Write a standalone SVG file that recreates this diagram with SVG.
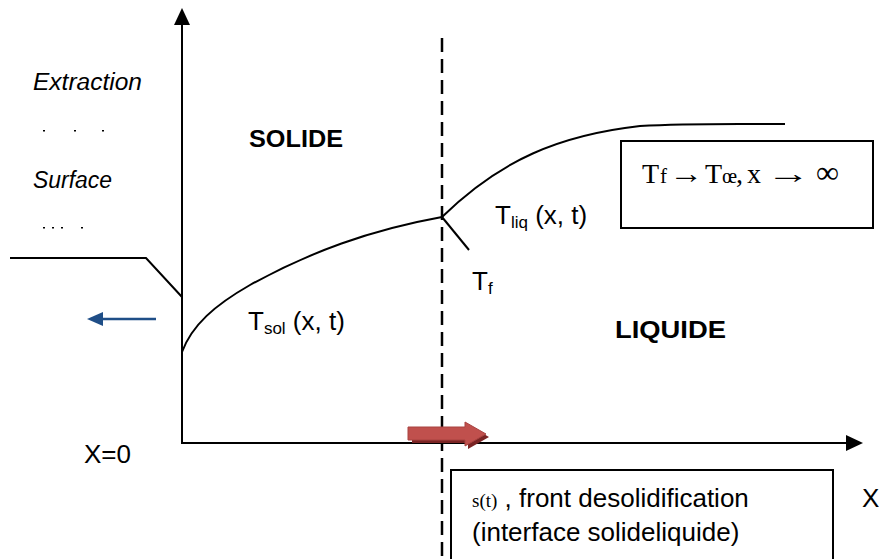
<svg xmlns="http://www.w3.org/2000/svg" width="879" height="559" viewBox="0 0 879 559">
<style>
.ln{fill:none;stroke:#000;stroke-width:2}
.t{font-family:"Liberation Sans",Calibri,Arial,sans-serif;fill:#000}
.it{font-style:italic;font-size:23px}
.b{font-weight:bold;font-size:24px}
.n{font-size:26px}
.sub{font-size:17px}
.serif{font-family:"Liberation Serif","Times New Roman",serif;fill:#000}
.box{fill:#fff;stroke:#000;stroke-width:2}
</style>
<rect width="879" height="559" fill="#fff"/>
<g id="connectors">
<line class="ln" x1="182" y1="24" x2="182" y2="444"/>
<path d="M182,8 L174,25 L190,25 Z" fill="#000"/>
<line class="ln" x1="181" y1="443" x2="848" y2="443"/>
<path d="M863,443 L846,435 L846,451 Z" fill="#000"/>
<line x1="442" y1="38" x2="442" y2="559" stroke="#000" stroke-width="2.5" stroke-dasharray="14,7"/>
<path class="ln" d="M182,352 C192,325 215,305 250,285 C310,252 370,230 442,217"/>
<path class="ln" d="M442,217 C500,160 560,135 640,126 C690,123 740,124 785,124"/>
<line class="ln" x1="442" y1="217" x2="469" y2="250"/>
<path class="ln" d="M10,258 L146,258 L182,297"/>
<line x1="156" y1="319" x2="100" y2="319" stroke="#1f4e87" stroke-width="2.5"/>
<path d="M87,319 L103,312 L103,326 Z" fill="#1f4e87"/>
</g>
<g id="red-arrow">
<path d="M412,431 L468,431 L468,425 L489,437 L468,449 L468,443 L412,443 Z" fill="#7a2424"/>
<path d="M408,427 L465,427 L465,422 L486,434 L465,446 L465,440 L408,440 Z" fill="#c0504d" stroke="#a84240" stroke-width="1"/>
</g>
<g id="labels-left">
<text class="t it" x="33" y="90" textLength="109" lengthAdjust="spacingAndGlyphs">Extraction</text>
<text class="t it" x="33" y="188" textLength="79" lengthAdjust="spacingAndGlyphs">Surface</text>
<rect x="43" y="130" width="2" height="1.5" fill="#000"/>
<rect x="74" y="130" width="2" height="1.5" fill="#000"/>
<rect x="102" y="130" width="2" height="1.5" fill="#000"/>
<rect x="43" y="227" width="2" height="1.5" fill="#000"/>
<rect x="52" y="227" width="2" height="1.5" fill="#000"/>
<rect x="61" y="227" width="2" height="1.5" fill="#000"/>
<rect x="81" y="227" width="2" height="1.5" fill="#000"/>
<text class="t n" x="84" y="463">X=0</text>
</g>
<g id="solide"><text class="t b" x="249" y="147" textLength="94" lengthAdjust="spacingAndGlyphs">SOLIDE</text></g>
<g id="liquide"><text class="t b" x="615" y="338" textLength="111" lengthAdjust="spacingAndGlyphs">LIQUIDE</text></g>
<g id="tsol"><text class="t n" x="248" y="330">T<tspan class="sub" dy="4">sol</tspan><tspan dy="-4"> (x, t)</tspan></text></g>
<g id="tliq"><text class="t n" x="495" y="224">T<tspan class="sub" dy="4">liq</tspan><tspan dy="-4"> (x, t)</tspan></text></g>
<g id="tf"><text class="t n" x="472" y="290">T<tspan class="sub" dy="4">f</tspan></text></g>
<g id="limit-box">
<rect class="box" x="621" y="141" width="252" height="87"/>
<text class="serif" font-size="28" y="183"><tspan x="642">T</tspan><tspan x="660" font-size="21">f</tspan><tspan x="669" textLength="34" lengthAdjust="spacingAndGlyphs">→</tspan><tspan x="705">T</tspan><tspan x="722" font-size="21">œ</tspan><tspan x="736">,</tspan><tspan x="747">x</tspan><tspan x="766" textLength="44" lengthAdjust="spacingAndGlyphs">→</tspan><tspan x="816" font-size="32">∞</tspan></text>
</g>
<g id="front-box">
<rect class="box" x="451" y="470" width="382" height="95"/>
<text class="t n" x="472" y="507"><tspan class="serif" font-size="19">s(t)</tspan> , front desolidification</text>
<text class="t n" x="472" y="541">(interface solideliquide)</text>
</g>
<g id="x-label"><text class="t n" x="862" y="507">X</text></g>
</svg>
